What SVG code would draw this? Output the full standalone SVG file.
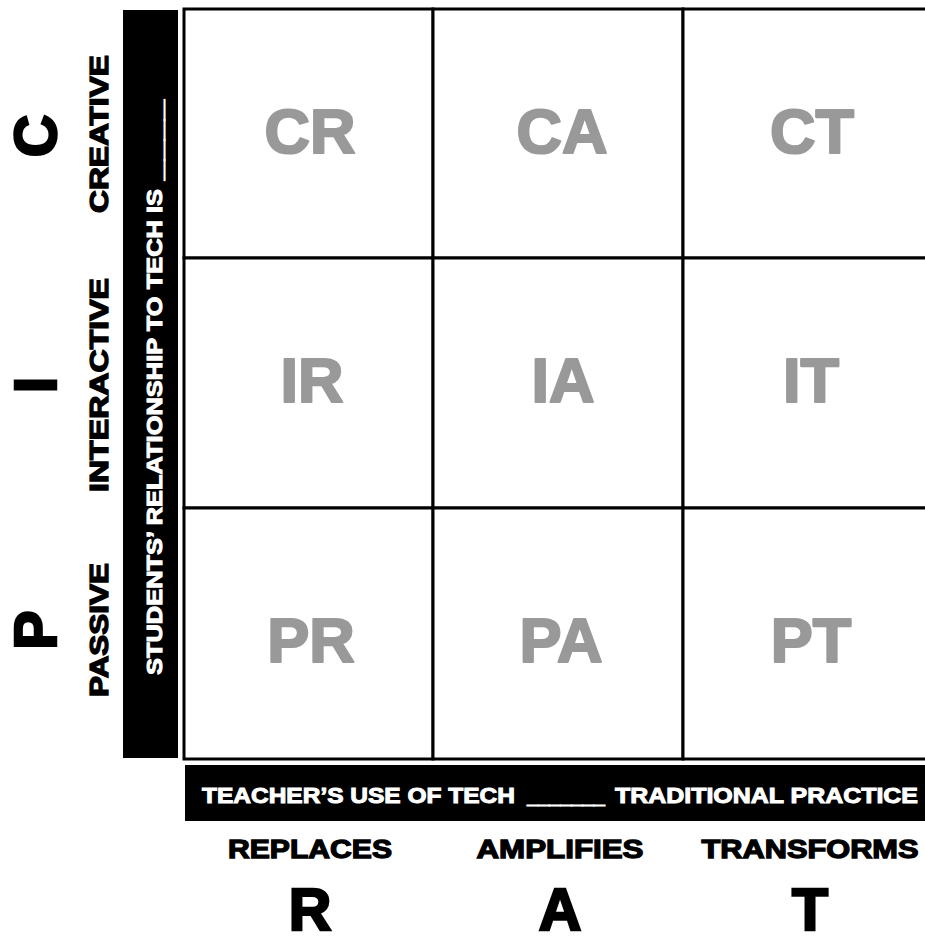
<svg xmlns="http://www.w3.org/2000/svg" width="925" height="936" viewBox="0 0 925 936">
<style>
text{font-family:"Liberation Sans",Arial,sans-serif;font-weight:bold}
.cell{fill:#fff;stroke:#000;stroke-width:3}
.lbl{fill:#999;stroke:#999;stroke-width:2.2;font-size:63px;text-anchor:middle;stroke-linejoin:round}
.bar{fill:#000}
.wt{fill:#fff;stroke:#fff;stroke-width:1;font-size:22px}
.row{fill:#000;stroke:#000;stroke-width:1.3;font-size:25px;text-anchor:middle}
.col{fill:#000;stroke:#000;stroke-width:1.3;font-size:26px;text-anchor:middle}
.big{fill:#000;stroke:#000;stroke-width:2.5;font-size:59px;text-anchor:middle}
</style>
<rect width="925" height="936" fill="#fff"/>
<g id="axis-bars">
<rect class="bar" x="123" y="10" width="55" height="748"/>
<rect class="bar" x="185" y="765" width="745" height="56"/>
<text class="wt" font-size="23" transform="translate(162,675) rotate(-90)" textLength="486" lengthAdjust="spacingAndGlyphs">STUDENTS’ RELATIONSHIP TO TECH IS</text>
<text class="wt" transform="translate(162,180) rotate(-90)" textLength="80" lengthAdjust="spacingAndGlyphs">____</text>
<text class="wt" x="202" y="803" textLength="313" lengthAdjust="spacingAndGlyphs">TEACHER’S USE OF TECH</text>
<text class="wt" x="527" y="803" textLength="78" lengthAdjust="spacingAndGlyphs">_______</text>
<text class="wt" x="615" y="803" textLength="303" lengthAdjust="spacingAndGlyphs">TRADITIONAL PRACTICE</text>
</g>
<g id="cell-CR"><rect class="cell" x="184" y="9" width="249" height="249"/><text class="lbl" x="310" y="153">CR</text></g>
<g id="cell-CA"><rect class="cell" x="433" y="9" width="250" height="249"/><text class="lbl" x="562" y="153">CA</text></g>
<g id="cell-CT"><rect class="cell" x="683" y="9" width="250" height="249"/><text class="lbl" x="812" y="153">CT</text></g>
<g id="cell-IR"><rect class="cell" x="184" y="258" width="249" height="250"/><text class="lbl" x="312" y="402">IR</text></g>
<g id="cell-IA"><rect class="cell" x="433" y="258" width="250" height="250"/><text class="lbl" x="563" y="402">IA</text></g>
<g id="cell-IT"><rect class="cell" x="683" y="258" width="250" height="250"/><text class="lbl" x="811" y="402">IT</text></g>
<g id="cell-PR"><rect class="cell" x="184" y="508" width="249" height="251"/><text class="lbl" x="311" y="662">PR</text></g>
<g id="cell-PA"><rect class="cell" x="433" y="508" width="250" height="251"/><text class="lbl" x="561" y="662">PA</text></g>
<g id="cell-PT"><rect class="cell" x="683" y="508" width="250" height="251"/><text class="lbl" x="811" y="662">PT</text></g>
<g id="row-labels">
<text class="row" transform="translate(108,134) rotate(-90)" textLength="158" lengthAdjust="spacingAndGlyphs">CREATIVE</text>
<text class="row" transform="translate(108,385) rotate(-90)" textLength="214" lengthAdjust="spacingAndGlyphs">INTERACTIVE</text>
<text class="row" transform="translate(108,630) rotate(-90)" textLength="134" lengthAdjust="spacingAndGlyphs">PASSIVE</text>
<text class="big" transform="translate(56,136) rotate(-90)">C</text>
<text class="big" transform="translate(56,385) rotate(-90)" stroke-width="5">I</text>
<text class="big" transform="translate(56,630) rotate(-90)">P</text>
</g>
<g id="col-labels">
<text class="col" x="310" y="858" textLength="164" lengthAdjust="spacingAndGlyphs">REPLACES</text>
<text class="col" x="560" y="858" textLength="167" lengthAdjust="spacingAndGlyphs">AMPLIFIES</text>
<text class="col" x="810" y="858" textLength="217" lengthAdjust="spacingAndGlyphs">TRANSFORMS</text>
<text class="big" x="310" y="930">R</text>
<text class="big" x="560" y="930">A</text>
<text class="big" x="810" y="930">T</text>
</g>
</svg>
